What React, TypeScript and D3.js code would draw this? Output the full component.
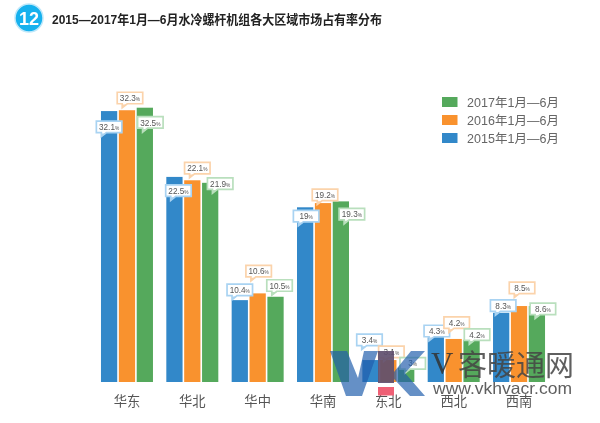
import React from "react";
import * as d3 from "d3";

const categories = ["华东", "华北", "华中", "华南", "东北", "西北", "西南"];
const seriesNames = ["2015年1月—6月", "2016年1月—6月", "2017年1月—6月"];
const colors = ["#3388c9", "#f9922f", "#55a95c"];
const labelBorders = ["#a9d3f2", "#fbd3ab", "#b9dfbd"];

// Printed labels
const labels2015 = ["32.1", "22.5", "10.4", "19", "3.4", "4.3", "8.3"];
const labels2016 = ["32.3", "22.1", "10.6", "19.2", "3.1", "4.2", "8.5"];
const labels2017 = ["32.5", "21.9", "10.5", "19.3", "3", "4.2", "8.6"];

// Bar lengths as drawn in the picture (the original's bars are not strictly proportional to its labels)
const bars2015 = [32.1, 24.3, 9.7, 20.7, 2.6, 5.3, 8.2];
const bars2016 = [32.2, 23.9, 10.5, 21.2, 2.6, 5.1, 9.0];
const bars2017 = [32.5, 23.6, 10.1, 21.4, 1.7, 5.0, 9.0];

// Callout placement relative to each bar's top centre
const calloutDx = [
  [0, 4, 0, 1, -1, 1, 2],
  [3, 5, 1, 2, 3, 3, 3],
  [5.5, 10, 4, 11, 6.5, 5.5, 6],
];
const calloutDy = [
  [10, 8, -16, 3, -26, -12, -13],
  [-18, -18, -28, -14, -14, -22, -24],
  [9, -5, -17, 7, -10, -11, -3],
];

const allBars = [bars2015, bars2016, bars2017];
const allLabels = [labels2015, labels2016, labels2017];

const W = 600;
const H = 423;
const font = "'Liberation Sans','Noto Sans CJK SC',sans-serif";

const x = d3.scaleBand<string>().domain(categories).range([94.3, 551.7]).paddingInner(0).paddingOuter(0);
const y = d3.scaleLinear().domain([0, 35]).range([382, 86.6]);
const inner = d3.scaleBand<number>().domain([0, 1, 2]).range([-26, 26]).paddingInner(0.09).paddingOuter(0);

function Callout({ cx, top, color, text }: { cx: number; top: number; color: string; text: string }) {
  const w = 25.5;
  const h = 11.5;
  const l = cx - w / 2;
  const path = d3.path();
  path.moveTo(l, top);
  path.lineTo(l + w, top);
  path.lineTo(l + w, top + h);
  path.lineTo(l + 10, top + h);
  path.lineTo(l + 5, top + h + 4);
  path.lineTo(l + 5, top + h);
  path.lineTo(l, top + h);
  path.closePath();
  return (
    <g>
      <path d={path.toString()} fill="#fff" stroke={color} strokeWidth={1.7} />
      <path d={`M${l + 5},${top + h + 0.8}L${l + 5},${top + h + 4}L${l + 10},${top + h + 0.8}Z`} fill={color} />
      <text x={cx} y={top + 8.8} textAnchor="middle" fontFamily={font} fontSize={8.2} fill="#555">
        {text}
        <tspan fontSize={4.8}>%</tspan>
      </text>
    </g>
  );
}

export default function App() {
  return (
    <svg
      width={W}
      height={H}
      viewBox={`0 0 ${W} ${H}`}
      style={{ position: "fixed", left: 0, top: 0, background: "#fff" }}
    >
      <defs>
        <filter id="soft" x="-5%" y="-5%" width="110%" height="110%">
          <feGaussianBlur stdDeviation="0.4" />
        </filter>
      </defs>
      <g filter="url(#soft)">
        {/* Title */}
        <circle cx={29} cy={18} r={14} fill="#14b1ee" stroke="#bfe8fa" strokeWidth={1.5} />
        <text x={29} y={24.5} textAnchor="middle" fontFamily={font} fontWeight={700} fontSize={18} fill="#fff">
          12
        </text>
        <text x={52} y={24} fontFamily={font} fontWeight={700} fontSize={12.6} fill="#222"
          textLength={330} lengthAdjust="spacingAndGlyphs">
          2015—2017年1月—6月水冷螺杆机组各大区域市场占有率分布
        </text>

        {/* Bars */}
        {allBars.map((vals, s) =>
          vals.map((v, i) => {
            const cx = x(categories[i])! + x.bandwidth() / 2;
            return (
              <rect
                key={`${s}-${i}`}
                x={cx + inner(s)!}
                y={y(v)}
                width={inner.bandwidth()}
                height={y(0) - y(v)}
                fill={colors[s]}
              />
            );
          })
        )}

        {/* Callouts */}
        {allBars.map((vals, s) =>
          vals.map((v, i) => {
            const cx = x(categories[i])! + x.bandwidth() / 2 + inner(s)! + inner.bandwidth() / 2;
            return (
              <Callout
                key={`c${s}-${i}`}
                cx={cx + calloutDx[s][i]}
                top={y(v) + calloutDy[s][i]}
                color={labelBorders[s]}
                text={allLabels[s][i]}
              />
            );
          })
        )}

        {/* Legend */}
        {[2, 1, 0].map((s, i) => (
          <g key={s} transform={`translate(442,${97 + i * 18})`}>
            <rect width={15.5} height={10} fill={colors[s]} />
            <text x={25} y={9.6} fontFamily={font} fontSize={12.5} fill="#666" textLength={92}>
              {seriesNames[s]}
            </text>
          </g>
        ))}

        {/* Category labels */}
        {categories.map((c) => (
          <text
            key={c}
            x={x(c)! + x.bandwidth() / 2}
            y={405.5}
            textAnchor="middle"
            fontFamily="'Noto Sans CJK SC',sans-serif"
            fontSize={13.3}
            fill="#555"
          >
            {c}
          </text>
        ))}

        {/* Watermark */}
        <path d="M330,351L347,351L358,378L364,351L378,351L362,396L346,396Z" fill="#1f5bab" opacity={0.68} />
        <rect x={378} y={351} width={16} height={32} fill="#5f4f6e" opacity={0.92} />
        <rect x={378} y={387} width={16} height={8.5} fill="#ef6075" />
        <path d="M394,372L411,351L425,351L405,373L425,396L410,396L394,379Z" fill="#1f5bab" opacity={0.68} />
        <text x={431} y={374} fontFamily="'Liberation Serif',serif" fontSize={31} fill="#333" opacity={0.85}>V</text>
        <text x={458} y={376} fontFamily="'Noto Sans CJK SC',sans-serif" fontSize={29} fill="#444" opacity={0.85}>
          客暖通网
        </text>
        <text x={433} y={393.5} fontFamily={font} fontSize={16.5} fill="#444" opacity={0.85} textLength={139} lengthAdjust="spacingAndGlyphs">
          www.vkhvacr.com
        </text>
      </g>
    </svg>
  );
}
